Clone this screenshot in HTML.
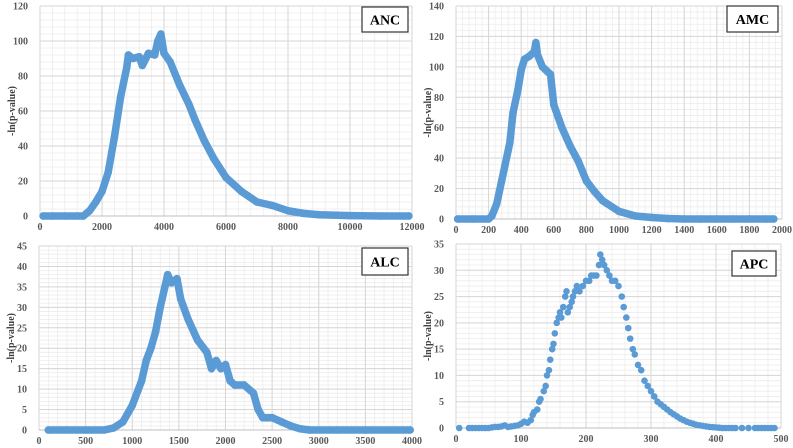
<!DOCTYPE html>
<html><head><meta charset="utf-8"><style>
html,body{margin:0;padding:0;background:#fff;width:793px;height:448px;overflow:hidden}
svg{display:block}
text{font-family:"Liberation Serif",serif;font-weight:bold}
</style></head><body>
<svg id="chart" width="793" height="448" viewBox="0 0 793 448" xmlns="http://www.w3.org/2000/svg"></svg>
<script>
// ANC data
const ancX=[100,400,800,1200,1400,1600,1800,2000,2200,2400,2600,2800,2850,3000,3200,3300,3500,3700,3800,3900,4000,4200,4500,4800,5000,5300,5600,6000,6500,7000,7500,8000,8500,9000,10000,11000,11900];
const ancY=[0,0,0,0,0,3,8,14,25,45,68,85,92,90,91,86,93,92,100,104,93,88,75,64,55,43,33,22,14,8,6,3,1.5,0.7,0.2,0,0];
// AMC data
const amcX=[10,100,200,220,250,280,300,330,350,380,400,420,450,480,490,500,530,560,580,600,650,700,750,800,850,900,1000,1100,1200,1300,1400,1500,1600,1700,1800,1900,1950];
const amcY=[0,0,0,2,10,25,35,50,70,85,98,105,107,110,116,108,100,97,95,75,60,48,38,25,18,12,5,2,1,0.3,0,0,0,0,0,0,0];
// ALC data
const alcX=[100,300,500,700,800,900,1000,1100,1150,1200,1250,1300,1350,1380,1420,1480,1520,1600,1700,1800,1850,1900,1950,2000,2050,2100,2200,2300,2350,2400,2500,2600,2700,2800,2900,3200,3500,3980];
const alcY=[0,0,0,0,0.5,2,6,12,17,20,24,30,35,38,36,37,32,27,22,19,15,17,15,16,12,11,11,9,5,3,3,2,1,0.3,0,0,0,0];
// APC data
const apcX=[5,20,25,30,35,40,45,50,55,60,65,70,75,80,85,90,95,100,105,110,115,118,120,125,128,130,135,138,140,143,145,148,150,152,155,158,160,162,165,168,170,172,175,178,180,183,186,190,195,200,205,208,212,216,220,222,225,228,232,236,240,245,250,255,258,262,265,268,272,275,280,285,290,295,300,305,310,315,320,325,330,335,340,345,350,355,360,365,370,375,380,385,390,395,400,405,410,415,420,425,430,440,450,460,465,470,475,480,485,490];
const apcY=[0,0,0,0,0,0,0,0,0.1,0.2,0.2,0.3,0.5,0.2,0.3,0.4,0.5,0.8,1.2,1,1.5,2.5,3,3.5,5,5.5,7,8,10,11,13,15,16,18,20,21,22,21,23,25,26,22,23,24,25,26,27,26,27,28,28,29,29,29,31,33,32,31,30,29,28,28,27,25,23,21,19,17,15,14,12,11,9,8,7,6,5,4.5,4,3.5,3,2.6,2.2,1.8,1.5,1.2,1,0.8,0.6,0.5,0.4,0.3,0.2,0.15,0.1,0.05,0,0,0,0,0,0,0,0,0,0,0,0,0,0];

const NS="http://www.w3.org/2000/svg";
const svg=document.getElementById('chart');
function mk(tag,attrs,parent){const e=document.createElementNS(NS,tag);for(const k in attrs)e.setAttribute(k,attrs[k]);(parent||svg).appendChild(e);return e;}

function panel(cfg){
  const g=mk('g',{});
  
  
  const {L,R,T,B,xmax,xstep,ymax,ystep}=cfg;
  const sx=v=>L+(v/xmax)*(R-L), sy=v=>B-(v/ymax)*(B-T);
  for(let v=0;v<=xmax+1e-9;v+=xstep/5){mk('line',{x1:sx(v),x2:sx(v),y1:T,y2:B,stroke:'#ececec','stroke-width':0.8},g);}
  for(let v=0;v<=ymax+1e-9;v+=ystep/5){mk('line',{x1:L,x2:R,y1:sy(v),y2:sy(v),stroke:'#ececec','stroke-width':0.8},g);}
  for(let v=0;v<=xmax+1e-9;v+=xstep){
    mk('line',{x1:sx(v),x2:sx(v),y1:T,y2:B,stroke:'#d6d6d6','stroke-width':1},g);
    const t=mk('text',{x:sx(v),y:B+14,'text-anchor':'middle','font-size':10,fill:'#595959'},g);
    
    
    t.textContent=Math.round(v);
  }
  for(let v=0;v<=ymax+1e-9;v+=ystep){
    mk('line',{x1:L,x2:R,y1:sy(v),y2:sy(v),stroke:'#d6d6d6','stroke-width':1},g);
    const t=mk('text',{x:L-12,y:sy(v)+3.5,'text-anchor':'end','font-size':10,fill:'#595959'},g);
    
    
    t.textContent=Math.round(v);
  }
  mk('line',{x1:L,x2:R,y1:B,y2:B,stroke:'#bfbfbf','stroke-width':1},g);
  const yt=mk('text',{x:0,y:0,'text-anchor':'middle','font-size':10,fill:'#404040',transform:`translate(${L-25},${(T+B)/2}) rotate(-90)`},g);
  
  
  yt.textContent='-ln(p-value)';
  const xs=cfg.xs, ys=cfg.ys;
  if(cfg.line){
    const p=mk('polyline',{points:xs.map((x,i)=>sx(x)+','+sy(ys[i])).join(' '),fill:'none',stroke:'#5b9bd5','stroke-width':7.5,'stroke-linejoin':'round','stroke-linecap':'round'},g);
    
    
  }
  xs.forEach((x,i)=>{
    const c=mk('circle',{cx:sx(x),cy:sy(ys[i]),r:cfg.line?3.8:3.3,fill:'#5b9bd5'},g);
    
    
  });
  const lb=mk('g',{},g);
  
  
  mk('rect',{x:cfg.bx,y:cfg.by,width:cfg.bw,height:cfg.bh,fill:'#fff',stroke:'#333','stroke-width':1.2},lb);
  const lt=mk('text',{x:cfg.bx+cfg.bw/2,y:cfg.by+cfg.bh/2+5,'text-anchor':'middle','font-size':14,fill:'#000'},lb);
  lt.textContent=cfg.name.toUpperCase();
}
panel({name:'anc',L:40,R:412,T:6,B:216,xmax:12000,xstep:2000,ymax:120,ystep:20,xs:ancX,ys:ancY,line:true,bx:362,by:7,bw:46,bh:25});
panel({name:'amc',L:456,R:782,T:6,B:219,xmax:2000,xstep:200,ymax:140,ystep:20,xs:amcX,ys:amcY,line:true,bx:727,by:6,bw:51,bh:26});
panel({name:'alc',L:39,R:412,T:246,B:430,xmax:4000,xstep:500,ymax:45,ystep:5,xs:alcX,ys:alcY,line:true,bx:362,by:248,bw:46,bh:27});
panel({name:'apc',L:456,R:781,T:244,B:428,xmax:500,xstep:100,ymax:35,ystep:5,xs:apcX,ys:apcY,line:false,bx:732,by:251,bw:44,bh:25});
</script>
</body></html>
